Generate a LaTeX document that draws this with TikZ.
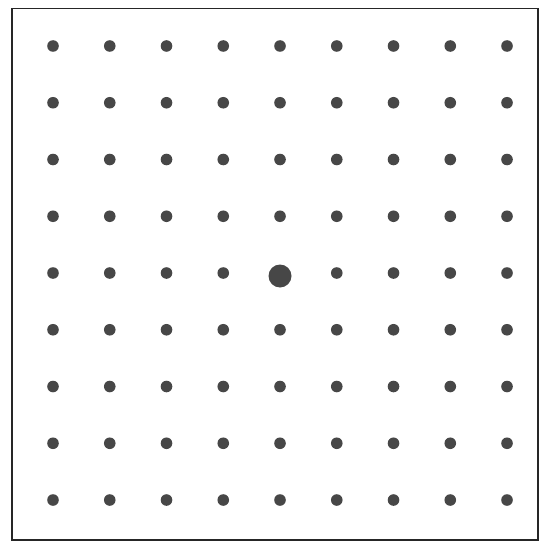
\documentclass[tikz,border=0pt]{standalone}
\begin{document}
\begin{tikzpicture}[x=1pt,y=-1pt,
  dotfill/.style={fill=black!72},
  frame/.style={draw=black!85,line width=1.8pt}]
\useasboundingbox (0,0) rectangle (549,543);
\draw[frame] (12,8.5) rectangle (538,540);
\foreach \i in {0,...,8}{
  \foreach \j in {0,...,8}{
    \pgfmathsetmacro\cx{53+56.75*\i}
    \pgfmathsetmacro\cy{46+56.75*\j}
    \ifnum\i=4 \ifnum\j=4 \else \fill[dotfill] (\cx,\cy) circle (5.8); \fi
    \else \fill[dotfill] (\cx,\cy) circle (5.8); \fi
  }
}
\fill[dotfill] (280,276) circle (11.5);
\end{tikzpicture}
\end{document}
